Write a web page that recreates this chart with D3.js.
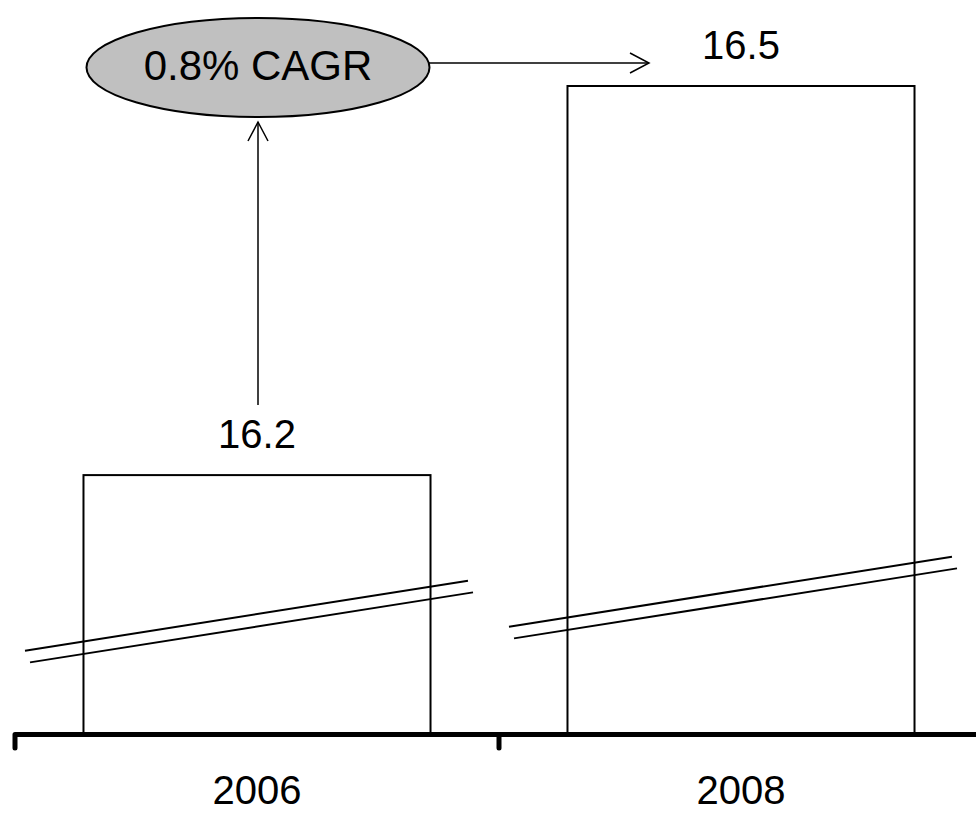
<!DOCTYPE html>
<html>
<head>
<meta charset="utf-8">
<script src="https://cdn.jsdelivr.net/npm/d3@7"></script>
<style>
  html, body { margin: 0; padding: 0; background: #fff; }
  svg { display: block; }
  text { font-family: "Liberation Sans", Arial, Helvetica, sans-serif; fill: #000; }
</style>
</head>
<body>
<script>
const categories = ["2006", "2008"];
const values = [16.2, 16.5];
const valueLabels = ["16.2", "16.5"];
const cagrLabel = "0.8% CAGR";

const W = 976, H = 813;
const svg = d3.select("body").append("svg").attr("width", W).attr("height", H);

const x = d3.scaleBand().domain(categories).range([15, 983])
  .paddingInner(0.283).paddingOuter(0.1415);
const y = d3.scaleLinear().domain([16.0, 16.5]).range([734.5, 86]);
const baseY = y(16.0);

// bars
svg.selectAll("rect.bar").data(categories).join("rect")
  .attr("class", "bar")
  .attr("x", d => x(d))
  .attr("y", (d, i) => y(values[i]))
  .attr("width", x.bandwidth())
  .attr("height", (d, i) => baseY - y(values[i]))
  .attr("fill", "#fff").attr("stroke", "#000").attr("stroke-width", 2);

// axis-break marks (double slanted lines)
const breakY = [614, 590];
const slope = -0.158;
categories.forEach((c, i) => {
  const cx = x(c) + x.bandwidth() / 2;
  [0, 12.5].forEach(off => {
    const x1 = cx - 232 + off * 0.4, x2 = cx + 211 + off * 0.4;
    svg.append("line")
      .attr("x1", x1).attr("y1", breakY[i] + off + slope * (x1 - cx))
      .attr("x2", x2).attr("y2", breakY[i] + off + slope * (x2 - cx))
      .attr("stroke", "#000").attr("stroke-width", 2);
  });
});

// value labels
svg.selectAll("text.val").data(categories).join("text")
  .attr("class", "val")
  .attr("x", d => x(d) + x.bandwidth() / 2)
  .attr("y", (d, i) => y(values[i]) - 27)
  .attr("text-anchor", "middle").attr("font-size", 40)
  .text((d, i) => valueLabels[i]);

// axis
const step = x.step();
const x0 = x(categories[0]) - x.paddingOuter() * step;
const tickXs = [x0, x0 + step, x0 + 2 * step];
svg.append("path")
  .attr("d", "M" + tickXs[0] + ",748 L" + tickXs[0] + "," + baseY + " L" + (W + 20) + "," + baseY)
  .attr("fill", "none").attr("stroke", "#000").attr("stroke-width", 5)
  .attr("stroke-linejoin", "round").attr("stroke-linecap", "round");
tickXs.slice(1).forEach(tx => {
  svg.append("line").attr("x1", tx).attr("x2", tx).attr("y1", baseY).attr("y2", 748)
    .attr("stroke", "#000").attr("stroke-width", 5).attr("stroke-linecap", "round");
});

// category labels
svg.selectAll("text.cat").data(categories).join("text")
  .attr("class", "cat")
  .attr("x", d => x(d) + x.bandwidth() / 2)
  .attr("y", 804)
  .attr("text-anchor", "middle").attr("font-size", 40)
  .text(d => d);

// CAGR ellipse
const c0 = x(categories[0]) + x.bandwidth() / 2;
const ecx = c0 + 1, ecy = 67.5, erx = 171.5, ery = 49.5;
function arrow(x1, y1, x2, y2) {
  svg.append("line").attr("x1", x1).attr("y1", y1).attr("x2", x2).attr("y2", y2)
    .attr("stroke", "#000").attr("stroke-width", 1.5);
  const a = Math.atan2(y2 - y1, x2 - x1), L = 19, wid = 10;
  const bx = x2 - L * Math.cos(a), by = y2 - L * Math.sin(a);
  const px = -Math.sin(a) * wid, py = Math.cos(a) * wid;
  svg.append("path")
    .attr("d", `M${bx + px},${by + py} L${x2},${y2} L${bx - px},${by - py}`)
    .attr("fill", "none").attr("stroke", "#000").attr("stroke-width", 1.5);
}
const c1 = x(categories[1]) + x.bandwidth() / 2;
arrow(ecx + erx - 1, 63, c1 - 92, 63);
arrow(c0 + 1, y(values[0]) - 70, c0 + 1, ecy + ery + 5);

svg.append("ellipse")
  .attr("cx", ecx).attr("cy", ecy).attr("rx", erx).attr("ry", ery)
  .attr("fill", "#c0c0c0").attr("stroke", "#000").attr("stroke-width", 2);
svg.append("text")
  .attr("x", ecx).attr("y", 80)
  .attr("text-anchor", "middle").attr("font-size", 42)
  .text(cagrLabel);
</script>
</body>
</html>
